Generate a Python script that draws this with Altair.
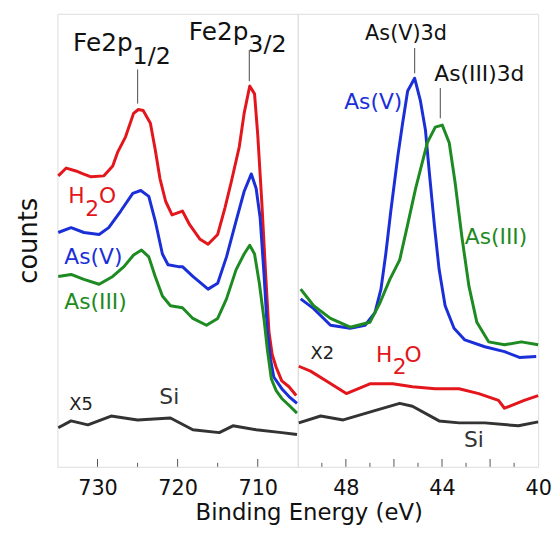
import altair as alt
import pandas as pd

# ---------------- Fe 2p region (binding energy, eV ; counts, arb. units) ----------------
fe_h2o_e = [734.9, 733.9, 732.7, 731.8, 730.8, 729.2, 728.1, 727.5, 726.5, 725.5, 724.9, 724.3,
            723.4, 722.8, 722.2, 721.5, 720.7, 719.4, 718.5, 717.2, 716.2, 715.0, 714.1, 713.3,
            712.3, 711.7, 711.0, 710.4, 710.0, 709.5, 709.0, 708.6, 708.2, 707.7, 707.0, 706.1, 705.2]
fe_h2o_c = [298, 306, 303, 300, 297, 298, 308, 322, 338, 362, 366, 365,
            352, 325, 295, 272, 258, 262, 248, 233, 228, 238, 265, 292,
            328, 362, 390, 382, 340, 272, 195, 138, 115, 102, 88, 82, 73]

fe_asv_e = [734.9, 733.3, 731.7, 729.8, 728.6, 727.1, 725.6, 724.6, 723.6, 722.8, 721.9, 721.2,
            719.9, 719.4, 718.1, 716.2, 715.0, 713.9, 712.7, 711.7, 710.8, 710.2, 709.7, 709.2,
            708.8, 708.4, 708.0, 707.0, 706.1, 705.1]
fe_asv_c = [240, 245, 240, 238, 245, 262, 280, 283, 277, 252, 218, 207,
            205, 205, 195, 182, 188, 215, 252, 282, 300, 285, 255, 195,
            140, 110, 92, 80, 72, 65]

fe_asiii_e = [734.9, 733.3, 731.7, 729.8, 728.1, 726.7, 725.5, 724.5, 723.6, 722.8, 721.9, 720.9,
              719.4, 718.1, 716.4, 715.0, 713.9, 712.7, 711.7, 711.0, 710.4, 709.8, 709.2, 708.8,
              708.3, 707.7, 707.0, 706.1, 705.1]
fe_asiii_c = [195, 197, 192, 187, 195, 205, 217, 222, 215, 195, 175, 165,
              163, 152, 145, 152, 172, 202, 218, 227, 218, 188, 150, 120,
              90, 78, 70, 63, 55]

fe_si_e = [734.9, 733.3, 731.2, 728.3, 725.0, 720.9, 718.1, 714.8, 713.1, 710.2, 707.0, 705.1]
fe_si_c = [40, 47, 43, 52, 48, 50, 38, 35, 42, 38, 35, 33]

# ---------------- As 3d region ----------------
as_asv_e = [49.88, 49.34, 48.64, 47.82, 47.20, 46.79, 46.54, 46.34, 46.13, 45.84, 45.64, 45.43,
            45.14, 44.90, 44.69, 44.53, 44.32, 44.12, 43.87, 43.50, 43.05, 42.22, 41.40, 40.78, 40.08]
as_asv_c = [172, 162, 145, 142, 145, 158, 182, 218, 262, 318, 352, 385,
            398, 375, 345, 302, 248, 202, 165, 142, 130, 123, 118, 112, 113]

as_asiii_e = [49.88, 49.34, 48.64, 47.82, 47.00, 46.58, 46.17, 45.76, 45.43, 45.10, 44.61, 44.28,
              43.99, 43.70, 43.46, 43.17, 42.88, 42.55, 42.06, 41.40, 40.70, 40.00]
as_asiii_c = [182, 165, 152, 143, 148, 168, 192, 212, 248, 285, 332, 348,
              350, 332, 292, 235, 185, 148, 128, 125, 128, 125]

as_h2o_e = [49.96, 49.47, 48.81, 47.98, 47.00, 46.05, 45.23, 44.28, 43.29, 42.47, 41.65, 41.40, 40.58, 40.00]
as_h2o_c = [103, 98, 88, 75, 85, 85, 82, 80, 80, 75, 68, 60, 68, 73]

as_si_e = [49.96, 49.05, 48.11, 46.87, 45.76, 45.23, 44.12, 43.29, 42.22, 40.82, 40.00]
as_si_c = [45, 52, 48, 57, 65, 62, 47, 45, 45, 42, 46]

series_names = ["H2O", "As(V)", "As(III)", "Si"]
series_colors = ["#e3161c", "#1b2fd8", "#1e8a22", "#333333"]

# tick positions
fe_major = [730, 720, 710]
fe_minor = [725, 715]
as_major = [48, 46, 44, 42]
as_minor = [49, 47, 45, 43, 41]
fe_labels = [730, 720, 710]
as_labels = [48, 44, 40]

# annotations: text, energy, counts, colour, size, align
fe_ann_text = ["Fe2p", "1/2", "Fe2p", "3/2", "H", "2", "O", "As(V)", "As(III)", "X5", "Si"]
fe_ann_e = [725.62, 725.62, 711.17, 711.17, 733.64, 731.54, 729.81, 734.14, 734.14, 733.52, 722.28]
fe_ann_c = [426, 413, 437, 425, 270, 257, 270, 208, 162, 58, 64]
fe_ann_col = ["#111111", "#111111", "#111111", "#111111", "#e3161c", "#e3161c", "#e3161c",
              "#1b2fd8", "#1e8a22", "#222222", "#333333"]
fe_ann_size = [25, 24, 25, 24, 22, 22, 22, 22, 22, 18, 22]
fe_ann_align = ["right", "left", "right", "left", "left", "left", "left", "left", "left", "left", "left"]

as_ann_text = ["As(V)3d", "As(III)3d", "As(V)", "As(III)", "X2", "H", "2", "O", "Si"]
as_ann_e = [47.20, 44.32, 48.07, 43.05, 49.47, 46.75, 46.05, 45.56, 43.09]
as_ann_c = [437, 395, 367, 228, 110, 107, 95, 107, 20]
as_ann_col = ["#111111", "#111111", "#1b2fd8", "#1e8a22", "#222222", "#e3161c", "#e3161c", "#e3161c", "#333333"]
as_ann_size = [21, 22, 22, 22, 18, 22, 22, 22, 22]
as_ann_align = ["left"] * 9

# peak marker lines: energy, from, to
fe_lead_e = [725.0, 711.05]
fe_lead_c1 = [372, 395]
fe_lead_c2 = [407, 427]
as_lead_e = [45.14, 44.07]
as_lead_c1 = [403, 357]
as_lead_c2 = [429, 388]

FONT = "DejaVu Sans"
W, H = 243, 458
YMAX = 464


def series_df(pairs):
    rows = []
    for name, es, cs in pairs:
        for e, c in zip(es, cs):
            rows.append({"E": e, "v": c, "s": name})
    return pd.DataFrame(rows)


def panel(lines_df, xdomain, majors, minors, labels, ann, leads, left):
    common = dict(values=labels, ticks=False, domain=False, grid=False,
                  labelFont=FONT, labelFontSize=21, labelColor="#111111",
                  labelPadding=11, labelFlush=False)
    if left:
        xaxis = alt.Axis(**common,
                         title="Binding Energy (eV)", titleFont=FONT, titleFontSize=23,
                         titleFontWeight="normal", titleColor="#111111",
                         titleX=254, titleY=53, titleAlign="center",
                         titleBaseline="alphabetic")
        yaxis = alt.Axis(labels=False, ticks=False, domain=False, grid=False,
                         title="counts", titleFont=FONT, titleFontSize=26,
                         titleFontWeight="normal", titleColor="#111111",
                         titleX=-21, titleY=H / 2, titleAngle=270,
                         titleAlign="center", titleBaseline="alphabetic")
    else:
        xaxis = alt.Axis(**common, title=None)
        yaxis = None
    xenc = alt.X("E:Q", scale=alt.Scale(domain=xdomain, reverse=True, nice=False, zero=False),
                 axis=xaxis, title="Binding Energy (eV)" if left else None)
    yenc = alt.Y("v:Q", scale=alt.Scale(domain=[0, YMAX], nice=False, zero=False), axis=yaxis,
                 title="counts" if left else None)

    lines = alt.Chart(lines_df).mark_line(strokeWidth=3, strokeJoin="round").encode(
        x=xenc, y=yenc,
        color=alt.Color("s:N", scale=alt.Scale(domain=series_names, range=series_colors), legend=None),
        detail="s:N",
        order=alt.Order("E:Q"),
    )

    tick_rows = [{"E": t, "v": 0, "v2": 8} for t in majors] + [{"E": t, "v": 0, "v2": 4} for t in minors]
    ticks = alt.Chart(pd.DataFrame(tick_rows)).mark_rule(color="#555555", strokeWidth=1).encode(
        x=xenc, y=yenc, y2="v2:Q")

    lead_df = pd.DataFrame({"E": leads[0], "v": leads[1], "v2": leads[2]})
    leaders = alt.Chart(lead_df).mark_rule(color="#666666", strokeWidth=1.2).encode(
        x=xenc, y=yenc, y2="v2:Q")

    ann_df = pd.DataFrame({"E": ann[1], "v": ann[2], "t": ann[0], "c": ann[3],
                           "fs": ann[4], "al": ann[5]})
    layers = [lines, ticks, leaders]
    for al in ["left", "right"]:
        sub = ann_df[ann_df["al"] == al]
        if len(sub) == 0:
            continue
        layers.append(
            alt.Chart(sub).mark_text(align=al, baseline="alphabetic", font=FONT).encode(
                x=xenc, y=yenc, text="t:N",
                color=alt.Color("c:N", scale=None),
                size=alt.Size("fs:Q", scale=None),
            )
        )
    return alt.layer(*layers).properties(width=W, height=H)


fe_df = series_df([("H2O", fe_h2o_e, fe_h2o_c), ("As(V)", fe_asv_e, fe_asv_c),
                   ("As(III)", fe_asiii_e, fe_asiii_c), ("Si", fe_si_e, fe_si_c)])
as_df = series_df([("H2O", as_h2o_e, as_h2o_c), ("As(V)", as_asv_e, as_asv_c),
                   ("As(III)", as_asiii_e, as_asiii_c), ("Si", as_si_e, as_si_c)])

left = panel(fe_df, [705, 735], fe_major, fe_minor, fe_labels,
             (fe_ann_text, fe_ann_e, fe_ann_c, fe_ann_col, fe_ann_size, fe_ann_align),
             (fe_lead_e, fe_lead_c1, fe_lead_c2), True)
right = panel(as_df, [40, 50], as_major, as_minor, as_labels,
              (as_ann_text, as_ann_e, as_ann_c, as_ann_col, as_ann_size, as_ann_align),
              (as_lead_e, as_lead_c1, as_lead_c2), False)

chart = alt.hconcat(left, right, spacing=0, bounds="flush").properties(
    padding={"left": 7, "top": 2, "right": 0, "bottom": 0}
).configure_view(stroke="#4d4d4d", strokeWidth=1).configure(background="white")

chart.save("out.html", embed_options={"renderer": "svg", "actions": False})
